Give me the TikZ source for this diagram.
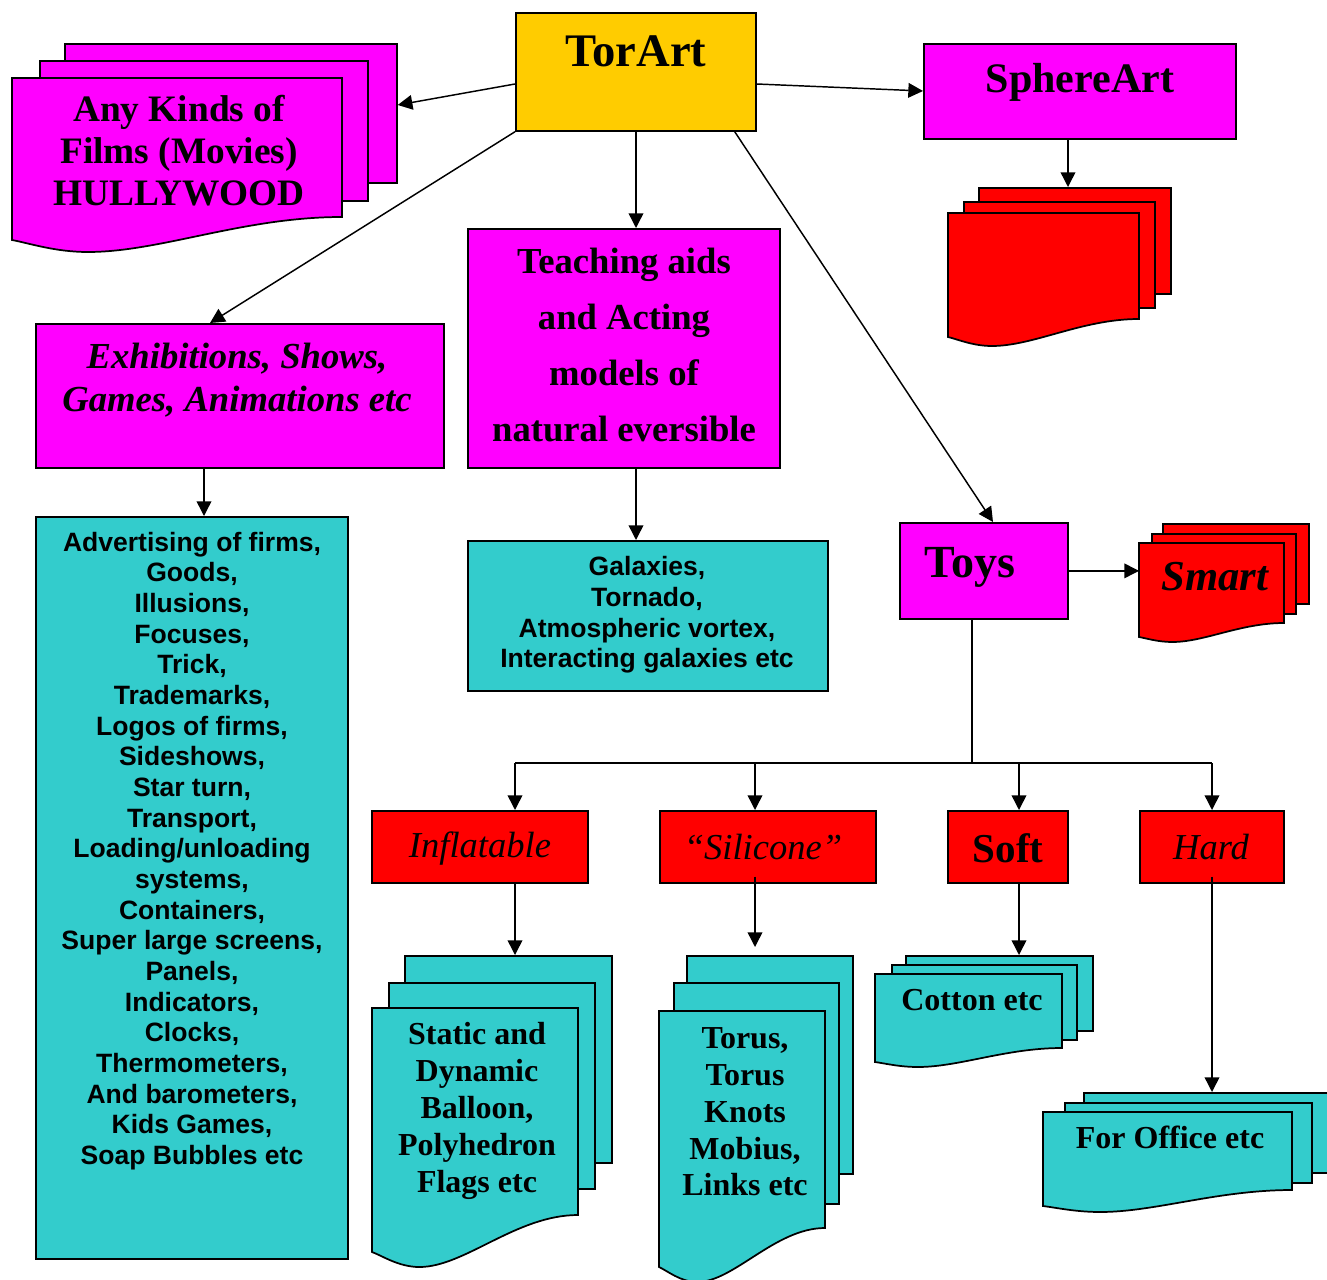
\documentclass[tikz,border=0pt]{standalone}
\usepackage{fontspec}
\setmainfont{Liberation Serif}
\setsansfont{Liberation Sans}
\usetikzlibrary{arrows.meta,calc}
\definecolor{mag}{HTML}{FF00FF}
\definecolor{gold}{HTML}{FFCC00}
\definecolor{redc}{HTML}{FF0000}
\definecolor{cyanc}{HTML}{33CCCC}
\newcommand\myfs[2]{\fontsize{#1}{#2}\selectfont}
% front sheet of a multi-document: fill, L, T, R, bottom-right, bottom-left, lowest
\newcommand\frontdoc[7]{%
  \draw[doc, fill=#1] (#2,#3) -- (#4,#3) -- (#4,#5)
    .. controls ({#4-0.3*(#4-#2)},#5) and ({#2+0.45*(#4-#2)},#7) .. ({#2+0.23*(#4-#2)},#7)
    .. controls ({#2+0.13*(#4-#2)},#7) and ({#2+0.05*(#4-#2)},{#6+0.25*(#7-#6)}) .. (#2,#6) -- cycle;}
\begin{document}
\begin{tikzpicture}[x=0.75pt,y=-0.75pt,
  box/.style={draw=black, line width=1.3pt, inner sep=0pt, anchor=north west},
  doc/.style={draw=black, line width=1.3pt, line join=miter},
  arr/.style={line width=1.1pt, -{Triangle[length=11pt,width=11pt]}},
  ln/.style={line width=1.1pt},
  txt/.style={inner sep=0pt, align=center, text=black}]
\useasboundingbox (0,0) rectangle (1327,1280);

% ---- main boxes
\node[box, fill=gold, minimum width=180pt, minimum height=88.5pt] (torart) at (515,12) {};
\node[box, fill=mag, minimum width=234pt, minimum height=71.25pt] (sphere) at (923,43) {};
\node[box, fill=mag, minimum width=306pt, minimum height=108pt] (exhib) at (35,323) {};
\node[box, fill=mag, minimum width=234pt, minimum height=179.25pt] (teach) at (467,228) {};
\node[box, fill=cyanc, minimum width=270pt, minimum height=112.5pt] (galax) at (467,540) {};
\node[box, fill=cyanc, minimum width=234pt, minimum height=556.5pt] (big) at (35,516) {};
\node[box, fill=mag, minimum width=126pt, minimum height=72pt] (toys) at (899,522) {};
\node[box, fill=redc, minimum width=162pt, minimum height=54pt] (infl) at (371,810) {};
\node[box, fill=redc, minimum width=162pt, minimum height=54pt] (sili) at (659,810) {};
\node[box, fill=redc, minimum width=90pt, minimum height=54pt] (soft) at (947,810) {};
\node[box, fill=redc, minimum width=108pt, minimum height=54pt] (hard) at (1139,810) {};

% ---- stacked documents
\node[box, fill=mag, minimum width=249pt, minimum height=104.25pt] (filmsB) at (64,43) {};
\node[box, fill=mag, minimum width=246pt, minimum height=105pt] (filmsM) at (39,60) {};
\frontdoc{mag}{12}{78}{342}{217}{240}{252}

\node[box, fill=redc, minimum width=144pt, minimum height=79.5pt] (redB) at (978,187) {};
\node[box, fill=redc, minimum width=143.25pt, minimum height=79.5pt] (redM) at (963,201) {};
\frontdoc{redc}{948}{213}{1139}{319}{337}{346}

\node[box, fill=redc, minimum width=109.5pt, minimum height=60pt] (smartB) at (1162,523) {};
\node[box, fill=redc, minimum width=108pt, minimum height=60pt] (smartM) at (1151,533) {};
\frontdoc{redc}{1139}{543}{1284}{623}{637}{642}
\coordinate (smartIn) at (1139,570);

\node[box, fill=cyanc, minimum width=155.25pt, minimum height=155.25pt] (infB) at (404,955) {};
\node[box, fill=cyanc, minimum width=154.5pt, minimum height=154.5pt] (infM) at (388,982) {};
\frontdoc{cyanc}{372}{1008}{578}{1215}{1252}{1267}

\node[box, fill=cyanc, minimum width=124.5pt, minimum height=163.5pt] (silB) at (686,955) {};
\node[box, fill=cyanc, minimum width=123.75pt, minimum height=165.75pt] (silM) at (673,982) {};
\frontdoc{cyanc}{659}{1011}{825}{1228}{1267}{1282}
\coordinate (silIn) at (755,947);

\node[box, fill=cyanc, minimum width=140.25pt, minimum height=56.25pt] (cotB) at (905,955) {};
\node[box, fill=cyanc, minimum width=138.75pt, minimum height=56.25pt] (cotM) at (891,964) {};
\frontdoc{cyanc}{875}{974}{1062}{1048}{1062}{1067}

\node[box, fill=cyanc, minimum width=187.5pt, minimum height=60pt] (offB) at (1083,1092) {};
\node[box, fill=cyanc, minimum width=185.25pt, minimum height=60pt] (offM) at (1064,1102) {};
\frontdoc{cyanc}{1043}{1112}{1292}{1190}{1206}{1212}

% ---- texts
\node[txt, font=\myfs{35}{40}\bfseries] (tTorArt) at (636,51) {TorArt};
\node[txt, font=\myfs{28}{31.5}\bfseries] (tFilms) at (179,151) {Any Kinds of\\Films (Movies)\\HULLYWOOD};
\node[txt, font=\myfs{31.5}{36}\bfseries] (tSphere) at (1080,82) {SphereArt};
\node[txt, font=\myfs{27.5}{32.25}\bfseries\itshape] (tExhib) at (237,380) {Exhibitions, Shows,\\Games, Animations etc};
\node[txt, font=\myfs{27.5}{42}\bfseries] (tTeach) at (624,345) {Teaching aids\\and Acting\\models of\\natural eversible};
\node[txt, font=\sffamily\myfs{19.9}{23}\bfseries] (tGal) at (647,615) {Galaxies,\\Tornado,\\Atmospheric vortex,\\Interacting galaxies etc};
\node[txt, font=\sffamily\myfs{19.9}{23}\bfseries] (tBig) at (192,851) {Advertising of firms,\\Goods,\\Illusions,\\Focuses,\\Trick,\\Trademarks,\\Logos of firms,\\Sideshows,\\Star turn,\\Transport,\\Loading/unloading\\systems,\\Containers,\\Super large screens,\\Panels,\\Indicators,\\Clocks,\\Thermometers,\\And barometers,\\Kids Games,\\Soap Bubbles etc};
\node[txt, font=\myfs{34.5}{40}\bfseries] (tToys) at (970,567) {Toys};
\node[txt, font=\myfs{32}{36}\bfseries\itshape] (tSmart) at (1215,577) {Smart};
\node[txt, font=\myfs{27.4}{32}\itshape] (tInfl) at (480,849) {Inflatable};
\node[txt, font=\myfs{27.4}{32}\itshape] (tSili) at (763,847) {“Silicone”};
\node[txt, font=\myfs{30.8}{36}\bfseries] (tSoft) at (1008,848) {Soft};
\node[txt, font=\myfs{27.4}{32}\itshape] (tHard) at (1211,847) {Hard};
\node[txt, font=\myfs{24}{27.9}\bfseries] (tStatic) at (477,1111) {Static and\\Dynamic\\Balloon,\\Polyhedron\\Flags etc};
\node[txt, font=\myfs{24}{27.6}\bfseries] (tTorus) at (745,1112) {Torus,\\Torus\\Knots\\Mobius,\\Links etc};
\node[txt, font=\myfs{24}{28}\bfseries] (tCotton) at (972,1000) {Cotton etc};
\node[txt, font=\myfs{24}{28}\bfseries] (tOffice) at (1170,1137) {For Office etc};

% ---- connectors
\draw[arr] ($(torart.north west)+(0,72)$) -- ($(filmsB.north east)+(0,62)$);
\draw[arr] ($(torart.north east)+(0,72)$) -- ($(sphere.north west)+(0,48)$);
\draw[arr] (torart.south west) -- ($(exhib.north west)+(175,0)$);
\draw[arr] ($(torart.south west)+(121,0)$) -- ($(teach.north west)+(169,0)$);
\draw[arr] ($(torart.south east)+(-22,0)$) -- ($(toys.north west)+(94,0)$);
\draw[arr] ($(sphere.south west)+(145,0)$) -- ($(redB.north west)+(90,0)$);
\draw[arr] ($(exhib.south west)+(169,0)$) -- ($(big.north west)+(169,0)$);
\draw[arr] ($(teach.south west)+(169,0)$) -- ($(galax.north west)+(169,0)$);
\draw[arr] (toys.east) -- (toys.east -| smartIn);

\coordinate (junc) at (972,763);
\coordinate (bInf) at (515,763);
\coordinate (bSil) at (755,763);
\coordinate (bSoft) at (1019,763);
\coordinate (bHard) at (1212,763);
\draw[ln] (toys.south -| junc) -- (junc);
\draw[ln] (bInf) -- (bHard);
\draw[arr] (bInf) -- (bInf |- infl.north);
\draw[arr] (bSil) -- (bSil |- sili.north);
\draw[arr] (bSoft) -- (bSoft |- soft.north);
\draw[arr] (bHard) -- (bHard |- hard.north);

\draw[arr] (bInf |- infl.south) -- (bInf |- infB.north);
\draw[arr] ($(bSil |- sili.south)+(0,-7)$) -- (silIn);
\draw[arr] (bSoft |- soft.south) -- (bSoft |- cotB.north);
\draw[arr] ($(bHard |- hard.south)+(0,-7)$) -- (bHard |- offB.north);
\end{tikzpicture}
\end{document}
